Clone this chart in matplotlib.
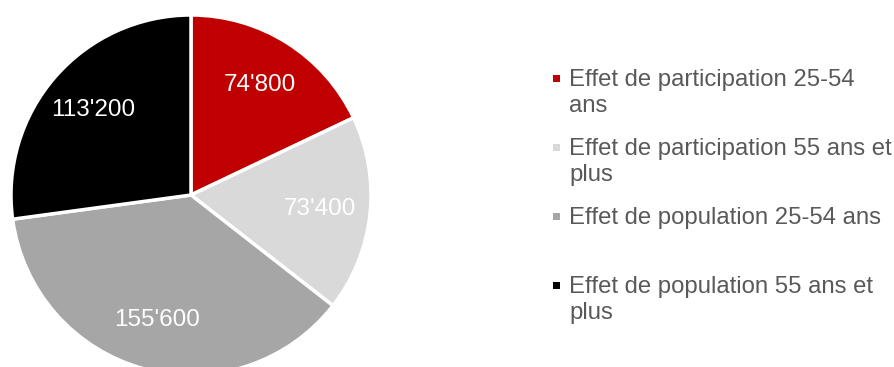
import matplotlib.pyplot as plt
from matplotlib.patches import Rectangle

plt.rcParams['font.family'] = ['Liberation Sans', 'DejaVu Sans']

# Contributions by effect
categories = [
    "Effet de participation 25-54\nans",
    "Effet de participation 55 ans et\nplus",
    "Effet de population 25-54 ans",
    "Effet de population 55 ans et\nplus",
]
values = [74800, 73400, 155600, 113200]
colors = ["#C00000", "#D9D9D9", "#A6A6A6", "#000000"]

W, H = 895, 367
fig = plt.figure(figsize=(W / 100, H / 100), dpi=100)

# Pie axes: radius 180 px, centre at (191, 195) from top-left
cx, cy, r = 191, 195, 180
ax = fig.add_axes([(cx - r) / W, (H - cy - r) / H, 2 * r / W, 2 * r / H])
labels = [f"{v:,}".replace(",", "'") for v in values]
wedges, texts = ax.pie(
    values, colors=colors, startangle=90, counterclock=False,
    labels=labels, labeldistance=0.72,
    wedgeprops=dict(edgecolor="white", linewidth=2.5),
    textprops=dict(color="white", fontsize=17.5),
)
for t in texts:
    t.set_horizontalalignment("center")
    t.set_verticalalignment("center")
ax.set_xlim(-1, 1)
ax.set_ylim(-1, 1)
ax.set_aspect("equal")

# Legend drawn by hand: fixed row pitch, square marker, wrapped labels
x_marker, x_text = 556, 569
y_first, pitch = 78, 69
for i, (lab, col) in enumerate(zip(categories, colors)):
    y = y_first + i * pitch
    fig.patches.append(Rectangle(((x_marker - 3.5) / W, 1 - (y + 3.5) / H), 7 / W, 7 / H,
                                 transform=fig.transFigure, facecolor=col,
                                 edgecolor="none"))
    fig.text(x_text / W, 1 - (y - 9) / H, lab, color="#595959", fontsize=17.2,
             ha="left", va="top", linespacing=1.25)

fig.savefig("out.png", dpi=100, facecolor="white")
